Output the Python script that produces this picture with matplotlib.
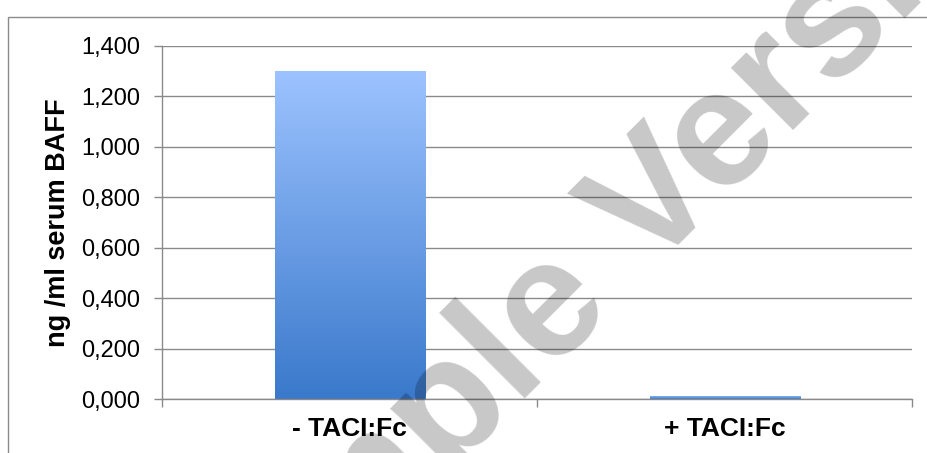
import matplotlib.pyplot as plt
import numpy as np
from matplotlib.colors import LinearSegmentedColormap
from matplotlib.patches import Rectangle
from matplotlib.ticker import FuncFormatter, MultipleLocator

plt.rcParams['font.family'] = ['Liberation Sans', 'DejaVu Sans']

categories = ['- TACI:Fc', '+ TACI:Fc']
baff = [1.30, 0.012]
y_ticks = [0.0, 0.2, 0.4, 0.6, 0.8, 1.0, 1.2, 1.4]

grid_col = '#8a8a8a'

fig = plt.figure(figsize=(9.28, 4.53), dpi=100)
ax = fig.add_axes([0.1746, 0.1192, 0.8082, 0.7798])

x = np.arange(len(categories))
bars = ax.bar(x, baff, width=0.40, color='none', edgecolor='none', zorder=2)

# vertical gradient fill, light at top, darker at bottom
cmap = LinearSegmentedColormap.from_list('bar', ['#3a79cb', '#9dc3ff'])
grad = np.linspace(0, 1, 256).reshape(-1, 1)
for p in bars.patches:
    x0, y0 = p.get_x(), p.get_y()
    w, h = p.get_width(), p.get_height()
    im = ax.imshow(grad, cmap=cmap, origin='lower', aspect='auto',
                   extent=[x0, x0 + w, y0, y0 + h], zorder=2)
    im.set_clip_path(p)

ax.set_xlim(-0.5, len(categories) - 0.5)
ax.set_ylim(0, 1.4)
ax.set_yticks(y_ticks)
ax.yaxis.set_major_formatter(FuncFormatter(lambda v, _: f'{v:.3f}'.replace('.', ',')))
ax.grid(axis='y', color=grid_col, linewidth=1.0, zorder=0)
ax.set_axisbelow(True)

ax.set_xticks(x)
ax.set_xticklabels(categories, fontsize=19, fontweight='bold')
ax.xaxis.set_minor_locator(MultipleLocator(1, offset=0.5))
ax.tick_params(axis='x', which='major', length=0, pad=13)
ax.tick_params(axis='x', which='minor', length=6, width=1, color=grid_col, direction='out')
ax.tick_params(axis='y', labelsize=17, length=6, width=1, color=grid_col, pad=10)

for s in ['top', 'right']:
    ax.spines[s].set_visible(False)
for s in ['left', 'bottom']:
    ax.spines[s].set_color(grid_col)
    ax.spines[s].set_linewidth(1.0)

ax.set_ylabel('ng /ml serum BAFF', fontsize=19.5, fontweight='bold', va='center')
ax.yaxis.set_label_coords(-0.139, 0.5)

# chart area frame (extends past the right and bottom edges)
fig.patches.append(Rectangle((8.5 / 928, -0.2), 1.2, 1.2 - 16.5 / 453,
                             transform=fig.transFigure, fill=False,
                             edgecolor=grid_col, linewidth=1.0))

# watermark
fig.text(605 / 928, 1 - 258 / 453, 'Sample Version', fontsize=120, fontweight='bold',
         color='black', alpha=0.22, rotation=45, ha='center', va='center',
         rotation_mode='anchor', zorder=10)

fig.savefig('out.png', dpi=100)
